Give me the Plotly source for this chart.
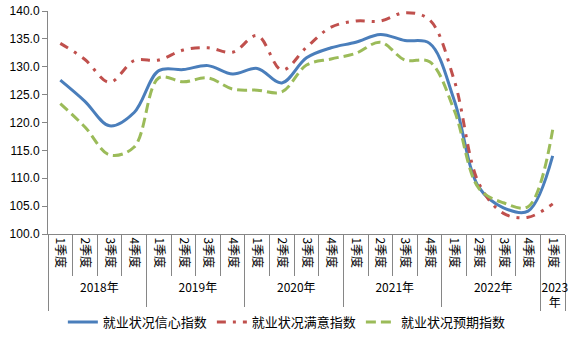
import plotly.graph_objects as go

# Dati
anni = ["2018年"] * 4 + ["2019年"] * 4 + ["2020年"] * 4 + ["2021年"] * 4 + ["2022年"] * 4 + ["2023<br>年"]
trimestri = ["1季度", "2季度", "3季度", "4季度"] * 5 + ["1季度"]

fiducia = [127.6, 123.8, 119.4, 121.8, 129.3, 129.5, 130.2, 128.7, 129.7, 127.1,
           131.6, 133.4, 134.4, 135.8, 134.7, 134.2, 124.0, 108.4, 104.7, 104.1, 114.0]
soddisfazione = [134.2, 131.3, 127.2, 131.1, 131.2, 133.0, 133.4, 132.6, 135.6, 129.4,
                 133.5, 137.1, 138.2, 138.2, 139.7, 138.4, 127.6, 109.1, 103.7, 103.0, 105.4]
aspettative = [123.4, 119.2, 114.2, 115.6, 128.0, 127.3, 128.0, 126.0, 125.8, 125.5,
               130.3, 131.4, 132.4, 134.4, 131.2, 130.9, 122.2, 108.2, 105.6, 104.9, 118.7]

nomi = ["就业状况信心指数", "就业状况满意指数", "就业状况预期指数"]

x = [anni, trimestri]

fig = go.Figure()
fig.add_trace(go.Scatter(x=x, y=fiducia, name=nomi[0], mode="lines",
                         line=dict(color="#4A7EBB", width=3, shape="spline", smoothing=1)))
fig.add_trace(go.Scatter(x=x, y=soddisfazione, name=nomi[1], mode="lines",
                         line=dict(color="#C0504D", width=3, shape="spline", smoothing=1,
                                   dash="9px,7px,3px,7px")))
fig.add_trace(go.Scatter(x=x, y=aspettative, name=nomi[2], mode="lines",
                         line=dict(color="#9BBB59", width=3, shape="spline", smoothing=1,
                                   dash="10px,5px")))

font_base = "Liberation Sans, Noto Sans CJK SC, sans-serif"

fig.update_layout(
    width=570, height=338,
    margin=dict(l=48, r=5, t=11, b=104, autoexpand=False),
    paper_bgcolor="white", plot_bgcolor="white",
    font=dict(family=font_base, size=12, color="#000000"),
    showlegend=True,
    legend=dict(orientation="h", x=0.462, xanchor="center", y=-0.395, yanchor="middle",
                font=dict(family="Noto Sans CJK SC", size=13), itemwidth=30,
                tracegroupgap=0),
)
fig.update_xaxes(
    type="multicategory", range=[-0.5, 20.5], showgrid=False, showline=True,
    linecolor="#868686", linewidth=1,
    ticks="outside", ticklen=41, tickcolor="#868686", tickangle=90,
    tickfont=dict(family="Noto Sans CJK SC", size=12),
    dividercolor="#868686", dividerwidth=1,
)
fig.update_yaxes(
    range=[100, 140], dtick=5, tickformat=".1f", showgrid=False, zeroline=False,
    showline=True, linecolor="#868686", linewidth=1,
    ticks="outside", ticklen=5, tickcolor="#868686",
    tickfont=dict(size=12),
)

# togli il margine di default del body
fig.write_html("out.html", config={"displayModeBar": False},
               post_script="document.body.style.margin='0';")
